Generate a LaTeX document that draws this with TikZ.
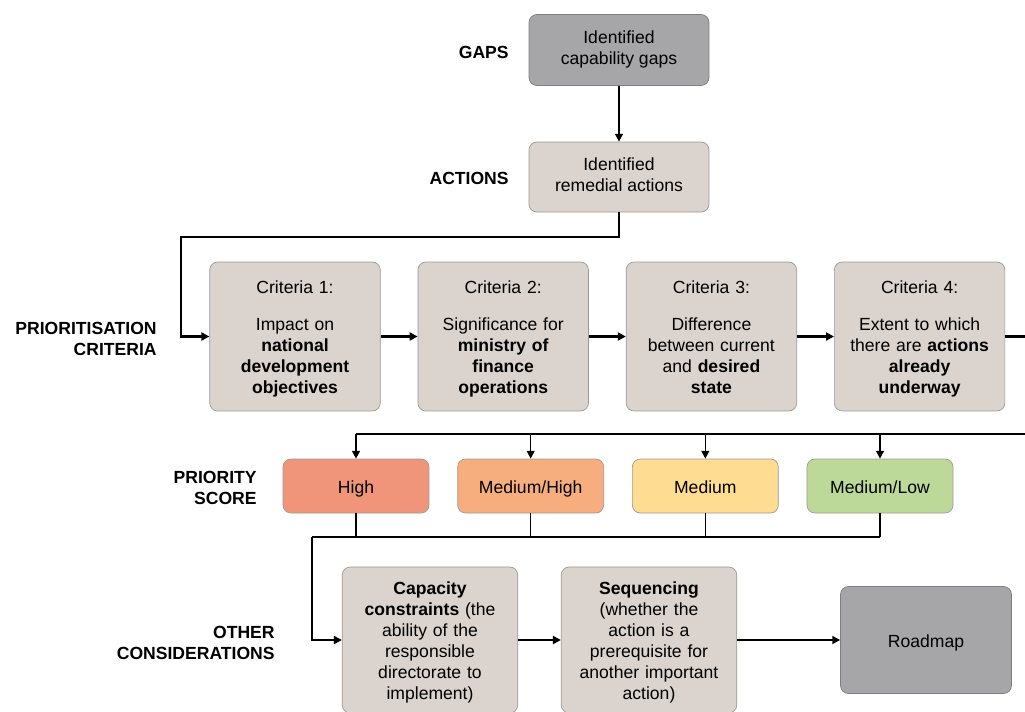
\documentclass[tikz,border=0pt]{standalone}
\usepackage{fontspec}
\setmainfont{Liberation Sans}
\usepackage{xcolor}
\usepackage{tikz}
\usetikzlibrary{arrows.meta,positioning,calc}
\definecolor{roadgray}{HTML}{A6A5A8}
\definecolor{roadgrayline}{HTML}{7E7D80}
\definecolor{roadbeige}{HTML}{DBD3CD}
\definecolor{roadbeigeline}{HTML}{9E9893}
\definecolor{scorehigh}{HTML}{F0957A}
\definecolor{scoremedhigh}{HTML}{F7AE7E}
\definecolor{scoremedium}{HTML}{FEDC92}
\definecolor{scoremedlow}{HTML}{BCD99A}

\begin{document}
\begin{tikzpicture}[
  x=0.02cm, y=-0.02cm,
  font=\fontsize{10}{12}\selectfont,
  box/.style={
    rectangle,
    rounded corners=4.5pt,
    draw=roadbeigeline,
    fill=roadbeige,
    align=center,
    inner sep=3pt,
    execute at begin node={\rule{0pt}{10.5pt}},
    execute at end node={\rule[-2.3pt]{0pt}{2.3pt}}
  },
  graybox/.style={
    box,
    draw=roadgrayline,
    fill=roadgray
  },
  criterion/.style={
    box,
    text width=3.2cm,
    minimum height=2.98cm
  },
  score/.style={
    box,
    minimum width=2.92cm,
    minimum height=1.08cm
  },
  other/.style={
    box,
    text width=3.3cm,
    minimum height=2.92cm
  },
  rowlabel/.style={
    anchor=east,
    align=right,
    inner sep=0pt,
    font=\fontsize{10}{12}\selectfont\bfseries
  },
  flow/.style={line width=1.3pt, -{Triangle[length=4.5pt,width=4.5pt]}},
  branch/.style={line width=0.9pt, -{Triangle[length=4.5pt,width=4.5pt]}}
]
\useasboundingbox (0,0) rectangle (1025,711);

% gaps and actions
\node[graybox, minimum width=3.6cm, minimum height=1.42cm] (gaps) at (619,50)
  {Identified\\capability gaps};
\node[box, minimum width=3.6cm, minimum height=1.4cm] (actions) at (619,177)
  {Identified\\remedial actions};

\node[rowlabel] (gapslabel) at (509,52) {GAPS};
\node[rowlabel] (actionslabel) at (509,178) {ACTIONS};

% prioritisation criteria
\node[criterion] (crit1) at (295,336.5) {
  Criteria 1:\\[9pt]
  Impact on\\
  \textbf{national}\\
  \textbf{development}\\
  \textbf{objectives}
};
\node[criterion, right=0.74cm of crit1] (crit2) {
  Criteria 2:\\[9pt]
  Significance for\\
  \textbf{ministry of}\\
  \textbf{finance}\\
  \textbf{operations}
};
\node[criterion, right=0.74cm of crit2] (crit3) {
  Criteria 3:\\[9pt]
  Difference\\
  between current\\
  and \textbf{desired}\\
  \textbf{state}
};
\node[criterion, right=0.74cm of crit3] (crit4) {
  Criteria 4:\\[9pt]
  Extent to which\\
  there are \textbf{actions}\\
  \textbf{already}\\
  \textbf{underway}
};

\node[rowlabel] (critlabel) at (157,339) {PRIORITISATION\\CRITERIA};

% priority score
\node[score, fill=scorehigh] (high) at (356,486) {High};
\node[score, fill=scoremedhigh, right=0.56cm of high] (medhigh) {Medium/High};
\node[score, fill=scoremedium, right=0.56cm of medhigh] (medium) {Medium};
\node[score, fill=scoremedlow, right=0.56cm of medium] (medlow) {Medium/Low};

\node[rowlabel] (scorelabel) at (257,488) {PRIORITY\\SCORE};

% other considerations
\node[other] (capacity) at (430,640) {
  \textbf{Capacity}\\
  \textbf{constraints} (the\\
  ability of the\\
  responsible\\
  directorate to\\
  implement)
};
\node[other] (sequencing) at (649,640) {
  \textbf{Sequencing}\\
  (whether the\\
  action is a\\
  prerequisite for\\
  another important\\
  action)
};
\node[graybox, minimum width=3.42cm, minimum height=2.14cm] (roadmap) at (926,640) {Roadmap};

\node[rowlabel] (otherlabel) at (275,643) {OTHER\\CONSIDERATIONS};

% connectors
\coordinate (turnA) at (181,237);
\coordinate (busR) at (1045,434);
\coordinate (busL) at (312,537);

\draw[branch] (gaps) -- (actions);
\draw[flow] (actions.south) |- (turnA) |- (crit1.west);
\draw[flow] (crit1) -- (crit2);
\draw[flow] (crit2) -- (crit3);
\draw[flow] (crit3) -- (crit4);
\draw[line width=1.3pt] (crit4.east) -| (busR) -- (high.north |- busR);
\foreach \s in {high,medhigh,medium,medlow}
  \draw[branch] (\s.north |- busR) -- (\s.north);
\foreach \s in {high,medhigh,medium,medlow}
  \draw[line width=0.9pt] (\s.south) -- (\s.south |- busL);
\draw[line width=1.3pt] (medlow.south |- busL) -- (busL);
\draw[flow] (busL) |- (capacity.west);
\draw[flow] (capacity) -- (sequencing);
\draw[flow] (sequencing) -- (roadmap);

\end{tikzpicture}
\end{document}
